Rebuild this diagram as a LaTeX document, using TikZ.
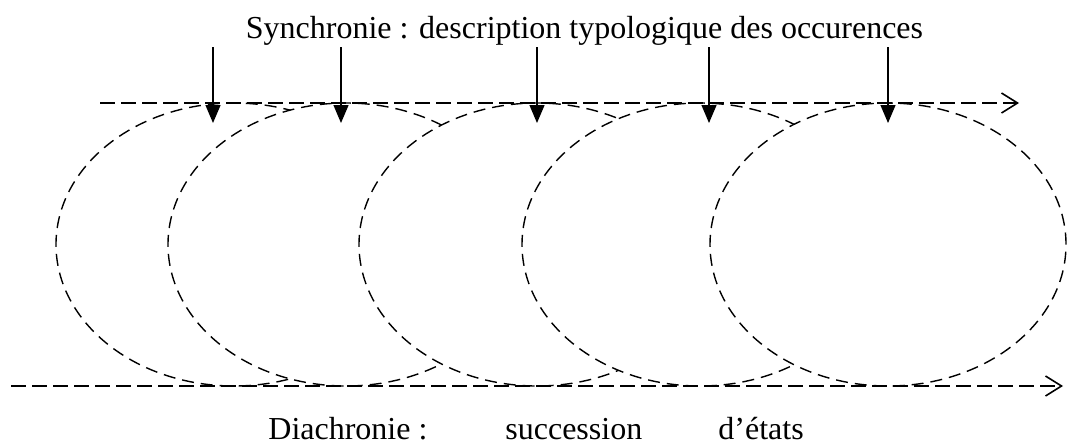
\documentclass[tikz,border=0pt]{standalone}
\usepackage{fontspec}
\setmainfont{Liberation Serif}
\usetikzlibrary{arrows.meta,shapes.geometric}
\tikzset{
  occ/.style={ellipse,draw,dash pattern=on 6pt off 3.5pt,line width=0.7pt,
    fill=white,minimum width=178pt,minimum height=141.5pt,
    inner sep=0pt,outer sep=0pt},
  axis/.style={-{Straight Barb[length=8pt,width=10pt]},line width=0.8pt,
    dash pattern=on 7.5pt off 3pt},
  arr/.style={-{Triangle[length=9pt,width=7.5pt]},line width=0.65pt},
  lbl/.style={font=\fontsize{16}{19}\selectfont,inner sep=0pt},
}

\begin{document}
\begin{tikzpicture}[x=0.5pt,y=-0.5pt]
  \useasboundingbox (0,0) rectangle (1068,445);
  % occurrences
  \foreach \cx [count=\i] in {234,346,537,700,888}
    \node[occ] (e\i) at (\cx,244.5) {};
  % axes
  \coordinate (s0) at (100,103);
  \coordinate (s1) at (1019,103);
  \coordinate (d0) at (11,386);
  \coordinate (d1) at (1063,386);
  \draw[axis] (s0) -- (s1);
  \draw[axis] (d0) -- (d1);
  % synchronic cuts
  \foreach \ax [count=\i] in {213,341,537,709,888}{
    \coordinate (a\i) at (\ax,47);
    \coordinate (b\i) at (\ax,123);
    \draw[arr] (a\i) -- (b\i);
  }
  \node[lbl,anchor=base] (syn) at (584.5,38)
    {Synchronie : description typologique des occurences};
  \node[lbl,anchor=base west] (dia) at (268,439) {Diachronie :};
  \node[lbl,anchor=base west] (succ) at (505,439) {succession};
  \node[lbl,anchor=base west] (etats) at (718,439) {d’états};
\end{tikzpicture}
\end{document}
